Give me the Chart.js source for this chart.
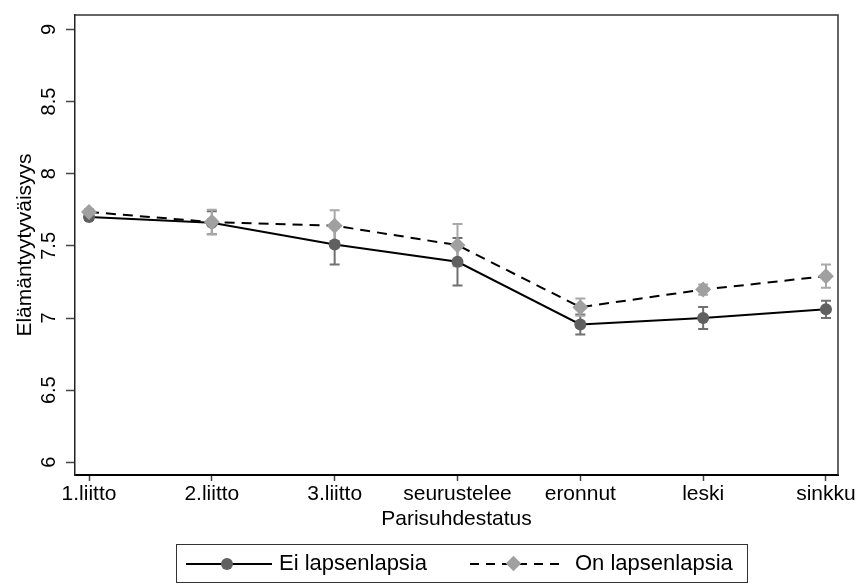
<!DOCTYPE html>
<html>
<head>
<meta charset="utf-8">
<script src="https://cdn.jsdelivr.net/npm/chart.js@4.4.1/dist/chart.umd.min.js"></script>
<style>
  html, body { margin: 0; padding: 0; background: #fff; }
  #wrap { position: relative; width: 863px; height: 584px; }
  #legend { position: absolute; left: 176px; top: 544px; width: 572px; height: 39px; border: 1px solid #333;
            box-sizing: border-box; font: 22px "Liberation Sans", Arial, sans-serif; color: #000; }
  #legend .ln { position: absolute; top: 18px; height: 2px; }
  #legend .solid { background: #000; }
  #legend .dash { background: repeating-linear-gradient(to right, #000 0 9px, transparent 9px 16px); }
  #legend .txt { position: absolute; top: 6px; line-height: 24px; }
  #legend .dot { position: absolute; top: 13px; width: 12px; height: 12px; border-radius: 50%; background: #606060; }
  #legend .dia { position: absolute; top: 13px; width: 11px; height: 11px; background: #a0a0a0; transform: rotate(45deg); }
</style>
</head>
<body>
<div id="wrap">
  <canvas id="chart" width="863" height="584"></canvas>
  <div id="legend">
    <div class="ln solid" style="left:9px;width:86px"></div>
    <div class="dot" style="left:44px"></div>
    <div class="txt" style="left:102px">Ei lapsenlapsia</div>
    <div class="ln dash" style="left:293px;width:96px"></div>
    <div class="dia" style="left:331px"></div>
    <div class="txt" style="left:398px">On lapsenlapsia</div>
  </div>
</div>
<script>
const categories = ['1.liitto', '2.liitto', '3.liitto', 'seurustelee', 'eronnut', 'leski', 'sinkku'];
const eiMean = [7.70, 7.66, 7.51, 7.39, 6.955, 7.00, 7.06];
const eiErr = [0.02, 0.08, 0.14, 0.165, 0.07, 0.077, 0.06];
const onMean = [7.735, 7.665, 7.64, 7.505, 7.075, 7.197, 7.29];
const onErr = [0.02, 0.085, 0.107, 0.147, 0.06, 0.035, 0.08];
const yTicks = [6, 6.5, 7, 7.5, 8, 8.5, 9];

const family = '"Liberation Sans", Arial, sans-serif';
const font = { family, size: 21 };

// error bars + top/right frame
const extras = {
  id: 'extras',
  beforeDatasetsDraw(chart) {
    const { ctx, scales: { x, y } } = chart;
    ctx.save();
    ctx.lineWidth = 2;
    [[eiMean, eiErr, '#707070'], [onMean, onErr, '#a8a8a8']].forEach(([m, e, c]) => {
      ctx.strokeStyle = c;
      m.forEach((v, i) => {
        const px = x.getPixelForValue(i);
        const lo = y.getPixelForValue(v - e[i]);
        const hi = y.getPixelForValue(v + e[i]);
        ctx.beginPath();
        ctx.moveTo(px, lo); ctx.lineTo(px, hi);
        ctx.moveTo(px - 5, lo); ctx.lineTo(px + 5, lo);
        ctx.moveTo(px - 5, hi); ctx.lineTo(px + 5, hi);
        ctx.stroke();
      });
    });
    ctx.restore();
  },
  afterDraw(chart) {
    const { ctx, chartArea: a } = chart;
    ctx.save();
    ctx.strokeStyle = '#333';
    ctx.lineWidth = 1.5;
    ctx.beginPath();
    ctx.moveTo(a.left, a.top); ctx.lineTo(a.right, a.top); ctx.lineTo(a.right, a.bottom);
    ctx.stroke();
    ctx.restore();
  }
};

const ctx = document.getElementById('chart').getContext('2d');
new Chart(ctx, {
  type: 'line',
  data: {
    datasets: [{
      label: 'Ei lapsenlapsia',
      data: eiMean.map((v, i) => ({ x: i, y: v })),
      borderColor: '#000',
      borderWidth: 2,
      pointStyle: 'circle',
      pointRadius: 6,
      pointBackgroundColor: '#606060',
      pointBorderWidth: 0,
      order: 2
    }, {
      label: 'On lapsenlapsia',
      data: onMean.map((v, i) => ({ x: i, y: v })),
      borderColor: '#000',
      borderWidth: 2,
      borderDash: [10, 7],
      pointStyle: 'rectRot',
      pointRadius: 8,
      pointBackgroundColor: '#a0a0a0',
      pointBorderWidth: 0,
      order: 1
    }]
  },
  options: {
    responsive: false,
    animation: false,
    layout: { padding: { left: 0, right: 25, top: 5, bottom: 52 } },
    plugins: { legend: { display: false }, tooltip: { enabled: false } },
    scales: {
      x: {
        type: 'linear',
        min: -0.114,
        max: 6.098,
        afterBuildTicks: s => { s.ticks = categories.map((c, i) => ({ value: i })); },
        afterFit: s => { s.height = 57; },
        ticks: { color: '#000', font, padding: 1, maxRotation: 0, callback: v => categories[v] },
        grid: { drawOnChartArea: false, tickLength: 6, color: '#444', tickWidth: 1.5 },
        border: { color: '#000', width: 2 },
        title: { display: true, text: 'Parisuhdestatus', color: '#000', font, padding: { top: 0, bottom: 0 } }
      },
      y: {
        min: 5.912,
        max: 9.10,
        afterBuildTicks: s => { s.ticks = yTicks.map(v => ({ value: v })); },
        afterFit: s => { s.width = 75; },
        ticks: { color: '#000', font: { family, size: 20 }, padding: 3, minRotation: 90, maxRotation: 90,
                 crossAlign: 'center', callback: v => String(v) },
        grid: { drawOnChartArea: false, tickLength: 9, color: '#444', tickWidth: 1.5 },
        border: { color: '#222', width: 1.5 },
        title: { display: true, text: 'Elämäntyytyväisyys', color: '#000', font, padding: { top: 13, bottom: 0 } }
      }
    }
  },
  plugins: [extras]
});
</script>
</body>
</html>
